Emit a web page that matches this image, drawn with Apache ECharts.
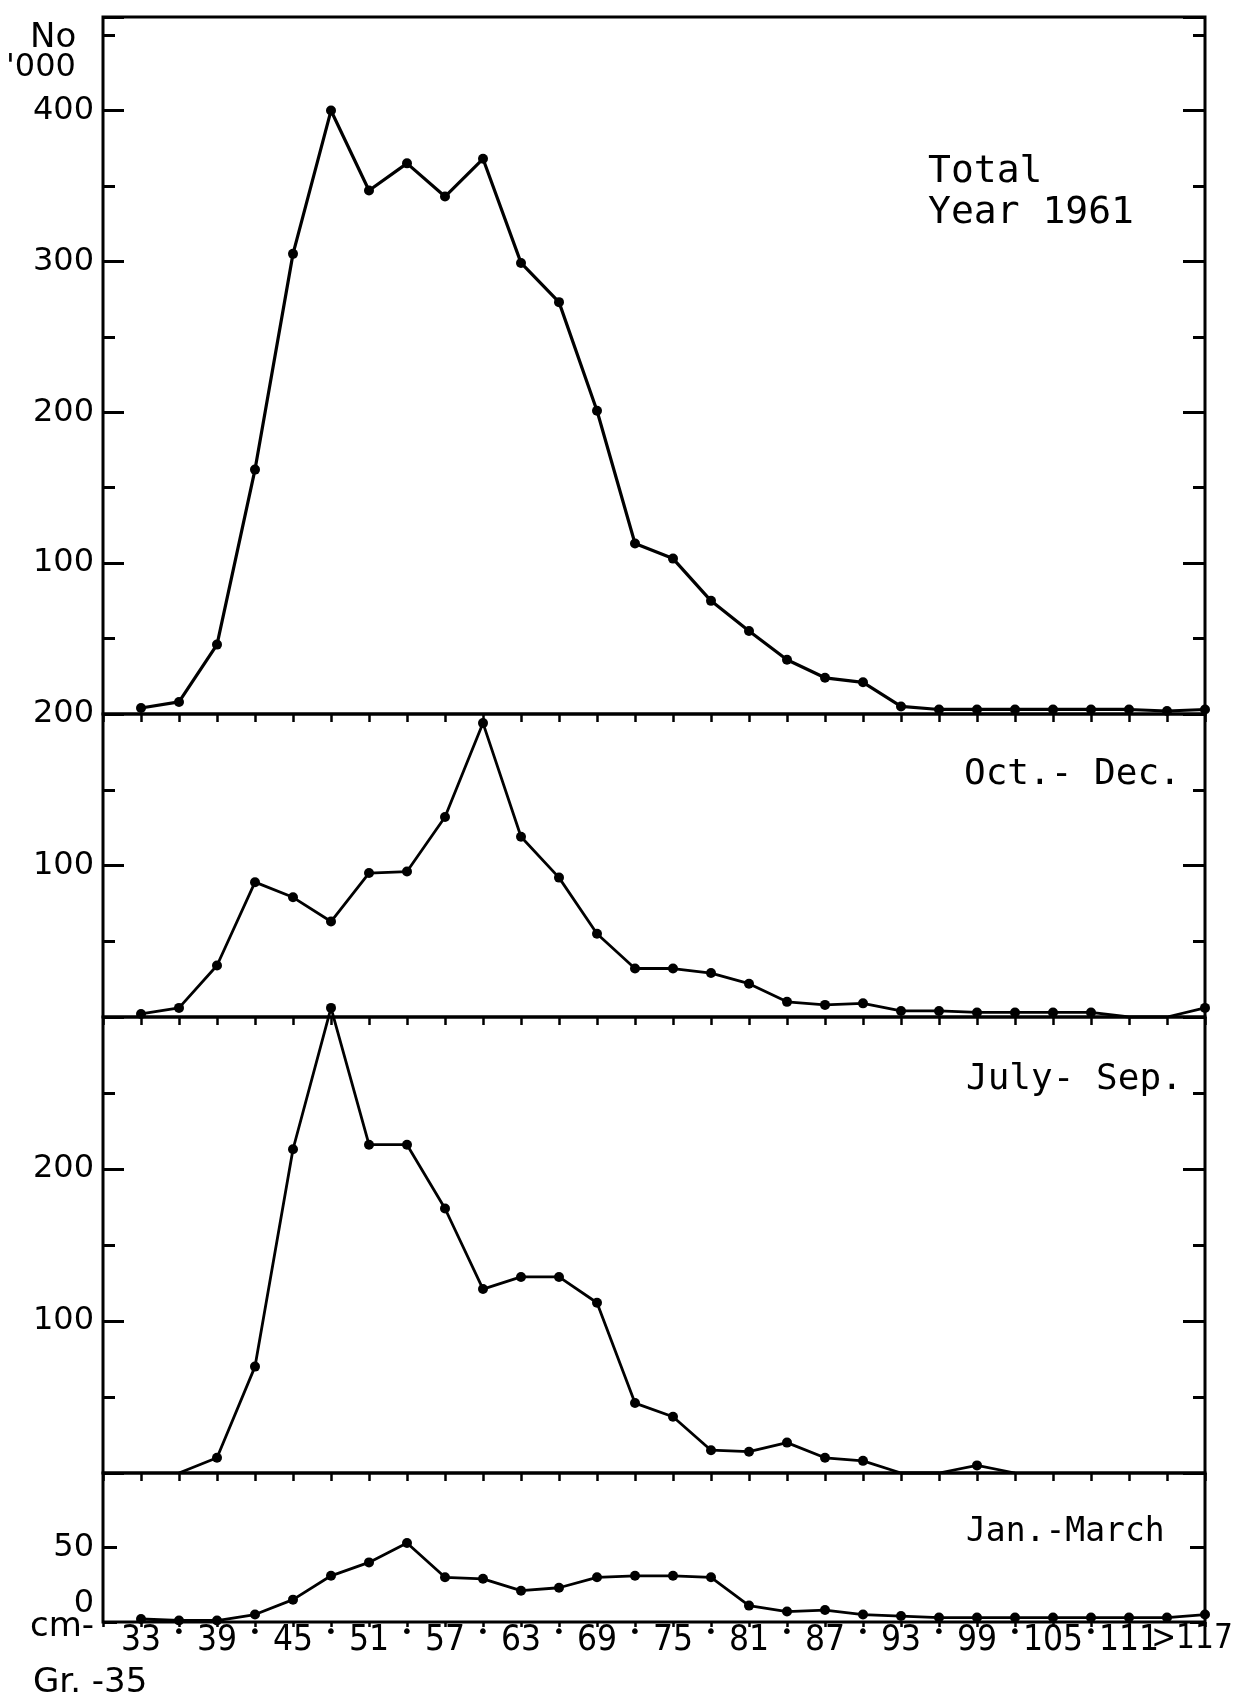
<!DOCTYPE html>
<html><head><meta charset="utf-8">
<script src="https://cdn.jsdelivr.net/npm/echarts@6/dist/echarts.min.js"></script>
<style>html,body{margin:0;padding:0;background:#fff}#c{width:1241px;height:1704px}</style>
</head><body><div id="c"></div>
<script>
// ---- data ----
const sizes = [33,36,39,42,45,48,51,54,57,60,63,66,69,72,75,78,81,84,87,90,93,96,99,102,105,108,111,114,117];
const xTickLabels = ['33','·','39','·','45','·','51','·','57','·','63','·','69','·','75','·','81','·','87','·','93','·','99','·','105','·','111','·','>117'];
const totalYear = [4,8,46,162,305,400,347,365,343,368,299,273,201,113,103,75,55,36,24,21,5,3,3,3,3,3,3,2,3];
const octDec    = [2,6,34,89,79,63,95,96,132,194,119,92,55,32,32,29,22,10,8,9,4,4,3,3,3,3,0,0,6];
const julySep   = [null,0,10,70,213,306,216,216,174,121,129,129,112,46,37,15,14,20,10,8,0,0,5,0,null,null,null,null,null];
const janMarch  = [2,1,1,5,15,31,40,53,30,29,21,23,30,31,31,30,11,7,8,5,4,3,3,3,3,3,3,3,5];
const yLabelsTotal = [100,200,300,400];
const yLabelsOctDec = [100,200];
const yLabelsJulySep = [100,200];
const yLabelsJanMarch = [0,50];
const panelTitles = ['Total', 'Year 1961', 'Oct.- Dec.', 'July- Sep.', 'Jan.-March'];
const unitLabel = ['No', "'000"];
const footLabels = ['cm-', 'Gr. -35'];

// ---- layout ----
const L = 103, R = 36;
const panels = [
  {top:17,   height:697, max:462, major:100, labels:yLabelsTotal,    data:totalYear, lw:3.2, minor:true},
  {top:714,  height:303, max:200, major:100, labels:yLabelsOctDec,   data:octDec,    lw:2.8, minor:true},
  {top:1017, height:456, max:300, major:100, labels:yLabelsJulySep,  data:julySep,   lw:2.8, minor:true},
  {top:1473, height:149, max:100, major:50,  labels:yLabelsJanMarch, data:janMarch,  lw:2.8, minor:false}
];
const black = '#000';
const numFont = 'DejaVu Sans';
const xFont = '"DejaVu Sans Condensed", "Liberation Sans Narrow", "DejaVu Sans"';
const grids = [], xAxes = [], yAxes = [], series = [];
panels.forEach((p, i) => {
  grids.push({left:L, right:R, top:p.top, height:p.height, show:true, borderColor:black, borderWidth:3,
    backgroundColor:'transparent', containLabel:false, outerBoundsMode:'none'});
  const last = i === panels.length - 1;
  xAxes.push({
    gridIndex:i, type:'value', min:30, max:117, interval:3,
    axisLine:{show:false}, splitLine:{show:false},
    axisTick:{show:true, inside:false, length: last ? 5 : 8, lineStyle:{color:black, width:2.5}},
    axisLabel: last ? {
      show:true, margin:1, color:black, fontFamily:xFont, fontSize:35,
      showMinLabel:true, showMaxLabel:true, hideOverlap:false,
      formatter: (v) => {
        const k = sizes.indexOf(v); if (k < 0) return '';
        const t = xTickLabels[k];
        if (t === '·') return '{d|•}';
        if (k === sizes.length - 1) return '{e|' + t + '}';
        return t;
      },
      rich:{
        d:{fontSize:20, fontFamily:numFont, color:black},
        e:{fontSize:33, fontFamily:xFont, color:black, padding:[0,26,0,0]}
      }
    } : {show:false}
  });
  const mainIdx = yAxes.length;
  const base = {gridIndex:i, type:'value', min:0, max:p.max, axisLine:{show:false}, splitLine:{show:false}};
  yAxes.push(Object.assign({}, base, {
    position:'left', interval:p.major,
    axisTick:{show:true, inside:true, length: p.minor ? 21 : 14, lineStyle:{color:black, width:3}},
    axisLabel:{show:true, margin:9, color:black, fontFamily:numFont, fontSize:32,
      showMinLabel:true, showMaxLabel:true,
      formatter: v => p.labels.indexOf(v) < 0 ? '' : (v === 0 ? '{z|0}' : String(v)),
      rich:{ z:{fontSize:32, fontFamily:numFont, color:black, padding:[0,0,36,0]} }
    }
  }));
  yAxes.push(Object.assign({}, base, {
    position:'right', interval:p.major,
    axisTick:{show:true, inside:true, length: p.minor ? 22 : 15, lineStyle:{color:black, width:3}},
    axisLabel:{show:false}
  }));
  if (p.minor) {
    yAxes.push(Object.assign({}, base, {position:'left', interval:p.major/2,
      axisTick:{show:true, inside:true, length:12, lineStyle:{color:black, width:3}}, axisLabel:{show:false}}));
    yAxes.push(Object.assign({}, base, {position:'right', interval:p.major/2,
      axisTick:{show:true, inside:true, length:12, lineStyle:{color:black, width:3}}, axisLabel:{show:false}}));
  }
  const pts = [];
  sizes.forEach((s, k) => { if (p.data[k] !== null) pts.push([s, p.data[k]]); });
  series.push({
    type:'line', xAxisIndex:i, yAxisIndex:mainIdx, data:pts, clip:false, z:5,
    symbol:'circle', symbolSize: v => (v[1] === 0 ? 0 : 10),
    lineStyle:{color:black, width:p.lw}, itemStyle:{color:black},
    animation:false
  });
});

function txt(t, x, y, size, fam) {
  return {type:'text', z:10, style:{text:t, x:x, y:y, fill:black,
    font: size + 'px "' + fam + '"', fontSize:size, fontFamily:fam,
    align:'left', verticalAlign:'middle', textAlign:'left', textVerticalAlign:'middle'}};
}
const mono = 'DejaVu Sans Mono';
const graphic = [
  txt(unitLabel[0], 30, 38, 34, 'DejaVu Sans'),
  txt(unitLabel[1], 6, 68, 32, 'DejaVu Sans'),
  txt(panelTitles[0], 928, 172, 38, mono),
  txt(panelTitles[1], 928, 213, 38, mono),
  txt(panelTitles[2], 964, 775, 36, mono),
  txt(panelTitles[3], 966, 1080, 36, mono),
  txt(panelTitles[4], 966, 1532, 33, mono),
  txt(footLabels[0], 30, 1627, 34, 'DejaVu Sans'),
  txt(footLabels[1], 33, 1683, 34, 'DejaVu Sans')
];

const chart = echarts.init(document.getElementById('c'), null, {renderer:'canvas'});
chart.setOption({
  backgroundColor:'#fff', animation:false,
  grid:grids, xAxis:xAxes, yAxis:yAxes, series:series, graphic:graphic
});
</script>
</body></html>
